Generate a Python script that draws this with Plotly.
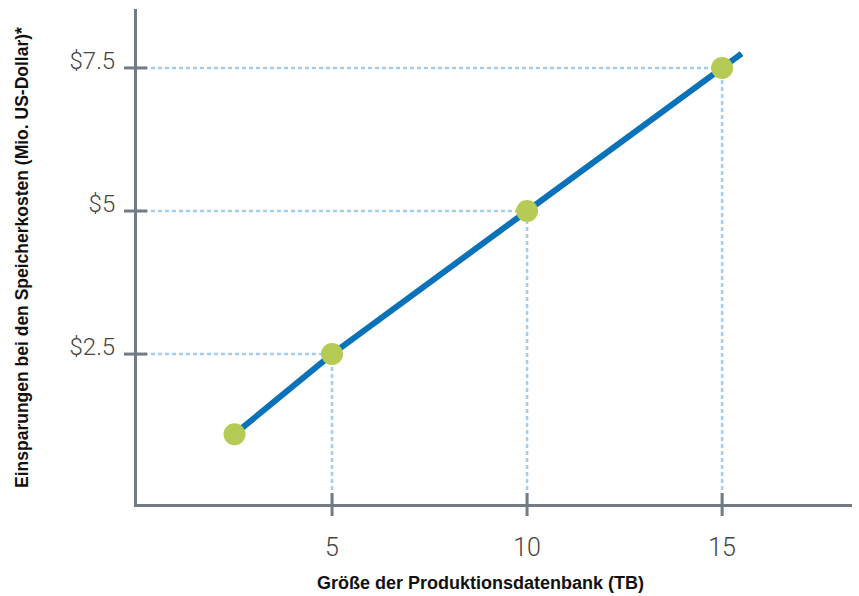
import plotly.graph_objects as go

# Database size (TB) and storage cost savings (million USD)
db_size_tb = [2.5, 5, 10, 15]
savings_musd = [1.1, 2.5, 5.0, 7.5]

# Trend line continues a little past the last point
trend_x = db_size_tb + [15.5]
trend_y = savings_musd + [7.75]

x_ticks = [5, 10, 15]
x_tick_text = ["5", "10", "15"]
y_ticks = [2.5, 5.0, 7.5]
y_tick_text = ["$2.5", "$5", "$7.5"]

x_range = [0, 18.33]
y_range = [-0.12, 8.53]

axis_color = "#737c84"
guide_color = "#a3cdef"
line_color = "#0a72b9"
marker_color = "#b6cb55"
tick_font = dict(family="Roboto", size=24, color="#444444", weight=300)

W, H = 859, 596
l, r, t, b = 137, 7, 9, 92
pw, ph = W - l - r, H - t - b


def paper_x(px):
    return (px - l) / pw


def paper_y(py):
    return (H - b - py) / ph


fig = go.Figure()

# Guide lines from each labelled point to both axes
shapes = []
for xv, yv in zip(db_size_tb, savings_musd):
    if xv in x_ticks:
        shapes.append(dict(type="line", xref="x", yref="y", x0=x_range[0], x1=xv,
                           y0=yv, y1=yv, layer="below",
                           line=dict(color=guide_color, width=2.5, dash="4px,3px")))
        shapes.append(dict(type="line", xref="x", yref="y", x0=xv, x1=xv,
                           y0=y_range[0], y1=yv, layer="below",
                           line=dict(color=guide_color, width=2.5, dash="4px,3px")))

# Tick marks crossing the axes
for xv in x_ticks:
    shapes.append(dict(type="line", xref="x", yref="y domain", ysizemode="pixel",
                       yanchor=0, x0=xv, x1=xv, y0=-12, y1=11,
                       line=dict(color=axis_color, width=3)))
for yv in y_ticks:
    shapes.append(dict(type="line", xref="x domain", yref="y", xsizemode="pixel",
                       xanchor=0, x0=-13, x1=10, y0=yv, y1=yv,
                       line=dict(color=axis_color, width=3)))

fig.add_trace(go.Scatter(x=trend_x, y=trend_y, mode="lines",
                         line=dict(color=line_color, width=6),
                         hoverinfo="skip", showlegend=False, cliponaxis=False))
fig.add_trace(go.Scatter(x=db_size_tb, y=savings_musd, mode="markers",
                         marker=dict(color=marker_color, size=22, line=dict(width=0)),
                         showlegend=False, cliponaxis=False))

fig.update_layout(
    width=W, height=H,
    margin=dict(l=l, r=r, t=t, b=b),
    paper_bgcolor="white", plot_bgcolor="white",
    shapes=shapes,
    xaxis=dict(range=x_range, showgrid=False, zeroline=False,
               showline=True, linecolor=axis_color, linewidth=3,
               tickmode="array", tickvals=x_ticks, ticktext=x_tick_text,
               ticks="", ticklabelstandoff=19, tickfont=dict(tick_font, size=25)),
    yaxis=dict(range=y_range, showgrid=False, zeroline=False,
               showline=True, linecolor=axis_color, linewidth=3,
               tickmode="array", tickvals=y_ticks, ticktext=y_tick_text,
               ticks="", ticklabelstandoff=14, ticklabelshift=-7, tickfont=tick_font),
    annotations=[
        dict(text="Größe der Produktionsdatenbank (TB)", xref="paper", yref="paper",
             x=paper_x(480), y=paper_y(583), xanchor="center", yanchor="middle",
             showarrow=False,
             font=dict(family="Liberation Sans", size=18, color="#111111", weight="bold")),
        dict(text="Einsparungen bei den Speicherkosten (Mio. US-Dollar)*",
             xref="paper", yref="paper", x=paper_x(22), y=paper_y(258),
             xanchor="center", yanchor="middle", textangle=-90, showarrow=False,
             font=dict(family="Liberation Sans", size=17.5, color="#111111", weight="bold")),
    ],
)

fig.write_html("out.html")
